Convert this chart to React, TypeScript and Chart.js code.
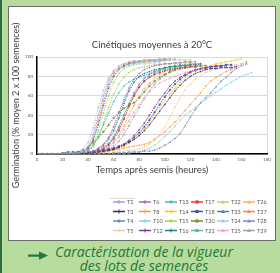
import React, { useEffect, useRef } from 'react';
import { Chart, registerables } from 'chart.js';

Chart.register(...registerables);

const TIMES = [0, 4, 8, 12, 16, 20, 24, 28, 32, 36, 40, 44, 48, 52, 56, 60, 64, 68, 72, 76, 80, 84, 88, 92, 96, 100, 104, 108, 112, 116, 120, 124, 128, 132, 136, 140, 144, 148, 152, 156, 160, 164, 168];

const T2 = [0,0,0,0,0,0,0,1,1,3,8,20,40,60,76,86,91,93,95,96,96,97,97,97,98,98,98,98];
const T3 = [0,0,0,0,0,0,0,0,0,0,1,1,2,3,4,5,7,9,12,15,19,24,30,37,44,51,58,65,71,76,80,83,85,87,88,88,89,89,89,90];
const T4 = [0,0,0,0,0,0,0,0,0,0,0,0,0,0,0,1,1,1,2,2,2,3,3,4,6,9,12,16,21,29,38,46,53,58,63,69,75,79,84,88,91,93];
const T5 = [0,0,0,0,0,0,0,0,0,0,0,0,1,1,2,2,3,3,4,4,5,7,10,14,20,28,38,48,58,66,72,77,81,84,86,88,89];
const T6 = [0,0,0,0,0,0,0,0,0,1,2,3,6,10,17,28,42,56,68,77,83,87,89,91,92,93,93,94,94,95,95,95];
const T8 = [0,0,0,0,0,0,0,0,0,0,0,1,1,2,3,4,5,6,7,8,9,10,12,15,19,23,28,33,39,45,51,57,63,70,75,79,82,85,87,90,93,95];
const T10 = [0,0,0,0,0,0,0,0,0,0,0,0,0,0,0,1,1,1,1,2,2,4,6,9,13,18,23,29,35,40,44,48,52,56,60,64,67,71,74,77,80,82,84];
const T12 = [0,0,0,0,0,0,0,0,0,0,0,1,1,2,3,5,7,10,14,19,25,32,40,48,56,63,70,75,79,82,85,87,88,89,90,90,91,91];
const T13 = [0,0,0,0,0,0,0,0,1,2,4,9,18,30,42,54,63,70,74,77,79,81,83,85,86,87,88,89,89];
const T14 = [0,0,0,0,0,0,0,0,0,0,0,1,1,2,3,4,6,8,11,15,20,26,33,41,48,55,62,68,74,79,83,86,88,90,91,93,94,95,96,97,98];
const T15 = [0,0,0,0,0,0,0,0,0,1,3,7,17,32,48,62,72,79,84,87,89,90,91,92,92,93,93,93,94,94,94];
const T16 = [0,0,0,0,0,0,0,0,0,1,1,3,5,9,15,24,37,52,65,74,80,83,85,87,88,89,90,90,91,91,92,92,93];
const T17 = [0,0,0,0,0,0,0,0,0,0,1,2,3,5,9,15,24,36,49,60,69,75,79,82,84,86,87,88,89,89,90,90];
const T18 = [0,0,0,0,0,1,2,2,2,2,2,3,3,4,5,6,8,10,13,17,22,28,35,43,51,59,66,72,77,81,84,86,88,89,90,91,91,92,92];
const T20 = [0,0,0,0,0,0,0,1,2,4,7,12,17,23,30,37,43,47,50,53,58,64,70,75,79,82,85,87,88,89,90,90,91,91];
const T21 = [0,0,0,0,0,0,0,0,0,0,1,2,4,7,11,18,28,40,51,61,69,75,80,83,86,88,89,90,91,91,92];
const T22 = [0,0,0,0,0,0,0,0,1,1,3,10,24,42,60,74,83,88,91,93,94,95,95,96,96,96,97,97,97,97,97];
const T23 = [0,0,0,0,0,0,0,0,1,2,5,14,30,50,68,80,87,91,93,94,95,95,96,96,96,97,97];
const T24 = [0,0,0,0,0,0,0,1,2,5,12,27,48,66,78,85,88,90,91,92,93,93,94,94,94];
const T25 = [0,0,0,0,0,0,0,0,0,0,0,1,2,4,7,11,17,25,34,43,51,58,64,69,73,76,78,80,82,84,85,86,87,88,89,90,90,91,91,92];
const T26 = [0,0,0,0,0,0,0,0,0,0,1,1,2,4,7,12,19,29,40,50,59,67,73,78,82,85,87,88,89,90,91,91,92];
const T27 = [0,0,0,0,0,0,0,0,1,2,6,16,34,55,72,83,89,92,94,95,96,96,97,97,97,98];
const T28 = [0,0,0,0,0,0,0,0,0,0,1,2,3,6,10,17,27,40,52,63,72,78,82,85,87,89,90,91,92,92,93,93,93];
const T29 = [0,0,0,0,0,0,0,0,0,0,0,1,2,3,5,8,13,20,29,39,48,57,65,72,77,81,84,86,88,89,90,91,91];

const SERIES_NAMES = ['T2','T3','T4','T5','T6','T8','T10','T12','T13','T14','T15','T16','T17','T18','T20','T21','T22','T23','T24','T25','T26','T27','T28','T29'];
const SERIES_VALUES = [T2,T3,T4,T5,T6,T8,T10,T12,T13,T14,T15,T16,T17,T18,T20,T21,T22,T23,T24,T25,T26,T27,T28,T29];
const SERIES_COLORS = ['#ab9fd8','#2f2f6e','#6f86c8','#f7c99b','#b462c4','#f5993b','#80d4e4','#7b3a98','#3fb8c6','#ffc21a','#a2d45e','#168079','#e8393c','#3a57b2','#7d8a3a','#63b891','#a8d872','#5b79c2','#a3cdee','#f4a9cc','#f8b25c','#f08a50','#8b87bf','#a6a6a6'];
const SERIES_MARKERS = ['cross','cross','cross','cross','cross','cross','cross','cross','cross','cross','cross','cross','rect','rect','rect','rect','triangle','triangle','triangle','triangle','triangle','triangle','triangle','triangle'];

const TITLE = 'Cinétiques moyennes à 20°C';
const X_TITLE = 'Temps après semis (heures)';
const Y_TITLE = 'Germination (% moyen 2 x 100 semences)';
const CAPTION_1 = 'Caractérisation de la vigueur';
const CAPTION_2 = 'des lots de semences';

const FONT = 'Lato';

function drawMarker(ctx: CanvasRenderingContext2D, style: string, x: number, y: number, r: number, color: string) {
  ctx.save();
  ctx.fillStyle = color;
  ctx.strokeStyle = color;
  ctx.lineWidth = 1;
  ctx.beginPath();
  if (style === 'rect') {
    ctx.fillRect(x - r * 0.8, y - r * 0.8, r * 1.6, r * 1.6);
  } else if (style === 'triangle') {
    ctx.moveTo(x, y - r);
    ctx.lineTo(x + r, y + r * 0.8);
    ctx.lineTo(x - r, y + r * 0.8);
    ctx.closePath();
    ctx.fill();
  } else {
    ctx.moveTo(x - r, y);
    ctx.lineTo(x + r, y);
    ctx.moveTo(x, y - r);
    ctx.lineTo(x, y + r);
    ctx.stroke();
  }
  ctx.restore();
}

const gridLegend = {
  id: 'gridLegend',
  afterDraw(chart: any) {
    const ctx: CanvasRenderingContext2D = chart.ctx;
    const area = chart.chartArea;
    const x0 = area.left + 76;
    const y0 = area.bottom + 48;
    const colGap = 26;
    const rowGap = 9.5;
    ctx.save();
    ctx.strokeStyle = '#d9d9d9';
    ctx.lineWidth = 1;
    ctx.beginPath();
    ctx.moveTo(x0 - 3, y0 - 3.5);
    ctx.lineTo(x0 + 22, y0 - 3.5);
    ctx.stroke();
    ctx.font = `5.5px ${FONT}`;
    ctx.textBaseline = 'middle';
    ctx.textAlign = 'left';
    chart.data.datasets.forEach((ds: any, i: number) => {
      const x = x0 + Math.floor(i / 4) * colGap;
      const y = y0 + (i % 4) * rowGap;
      ctx.strokeStyle = ds.borderColor;
      ctx.lineWidth = 1.5;
      ctx.beginPath();
      ctx.moveTo(x, y);
      ctx.lineTo(x + 12, y);
      ctx.stroke();
      drawMarker(ctx, ds.pointStyle, x + 6, y, 2, ds.borderColor);
      ctx.fillStyle = '#595959';
      ctx.fillText(ds.label, x + 14, y + 0.5);
    });
    ctx.restore();
  },
};

export default function App() {
  const ref = useRef<HTMLCanvasElement>(null);

  useEffect(() => {
    const datasets = SERIES_NAMES.map((name, i) => ({
      label: name,
      data: SERIES_VALUES[i].map((v, j) => ({ x: TIMES[j], y: v })),
      borderColor: SERIES_COLORS[i],
      backgroundColor: SERIES_COLORS[i],
      borderWidth: 1,
      borderDash: [1.5, 1],
      pointStyle: SERIES_MARKERS[i],
      pointRadius: 0.9,
      pointBorderWidth: 0.6,
      pointBorderColor: SERIES_COLORS[i],
      tension: 0,
    }));

    const chart = new Chart(ref.current as HTMLCanvasElement, {
      type: 'line',
      data: { datasets },
      plugins: [gridLegend],
      options: {
        animation: false,
        responsive: false,
        devicePixelRatio: 1,
        layout: { padding: { top: 0, left: 0, right: 8, bottom: 63 } },
        plugins: {
          legend: { display: false },
          tooltip: { enabled: false },
          title: {
            display: true,
            text: TITLE,
            fullSize: false,
            color: '#404040',
            font: { family: FONT, size: 9.5, weight: 'normal' },
            padding: { top: 32, bottom: 6.6 },
          },
        },
        scales: {
          x: {
            type: 'linear',
            min: 0,
            max: 180,
            afterFit: (s: any) => { s.height = 23; },
            ticks: { stepSize: 20, color: '#595959', font: { family: FONT, size: 4.5 }, padding: 3, maxRotation: 0 },
            grid: {
              drawTicks: false,
              color: (c: any) => (c.tick && c.tick.value === 180 ? '#d9d9d9' : 'rgba(0,0,0,0)'),
              lineWidth: 1,
            },
            border: { color: '#000000', width: 1.5 },
            title: {
              display: true,
              text: X_TITLE,
              color: '#404040',
              font: { family: FONT, size: 9.5 },
              padding: { top: 0, bottom: 1 },
            },
          },
          y: {
            min: 0,
            max: 100,
            afterFit: (s: any) => { s.width = 28; },
            ticks: { stepSize: 20, color: '#595959', font: { family: FONT, size: 4.5 }, padding: 4 },
            grid: { drawTicks: false, color: '#d9d9d9', lineWidth: 1 },
            border: { color: '#000000', width: 1.5 },
            title: {
              display: true,
              text: Y_TITLE,
              color: '#404040',
              font: { family: FONT, size: 9 },
              padding: { top: 1.5, bottom: 0 },
            },
          },
        },
      },
    } as any);
    return () => chart.destroy();
  }, []);

  return (
    <div style={{ position: 'fixed', left: 0, top: 0, width: 280, height: 273, background: '#b8dc9d', overflow: 'hidden' }}>
      <div style={{ position: 'absolute', left: 0, top: 0, width: 2, height: 273, background: '#2e6d3b' }} />
      <div style={{ position: 'absolute', left: 8, top: 6, width: 266, height: 233, background: '#ffffff', border: '1px solid #6b6b6b' }}>
        <canvas ref={ref} width={266} height={233} style={{ display: 'block' }} />
      </div>
      <svg style={{ position: 'absolute', left: 27, top: 251 }} width={22} height={9} viewBox="0 0 22 9">
        <rect x={1} y={3.5} width={12} height={2.2} fill="#1d7a3a" />
        <polygon points="12,0.5 21,4.6 12,8.7" fill="#1d7a3a" />
      </svg>
      <div
        style={{
          position: 'absolute',
          left: 6,
          top: 245,
          width: 276,
          textAlign: 'center',
          fontFamily: '"Open Sans", sans-serif',
          fontStyle: 'italic',
          fontSize: 14,
          lineHeight: '14px',
          color: '#1d7a3a',
        }}
      >
        <div>{CAPTION_1}</div>
        <div>{CAPTION_2}</div>
      </div>
    </div>
  );
}
